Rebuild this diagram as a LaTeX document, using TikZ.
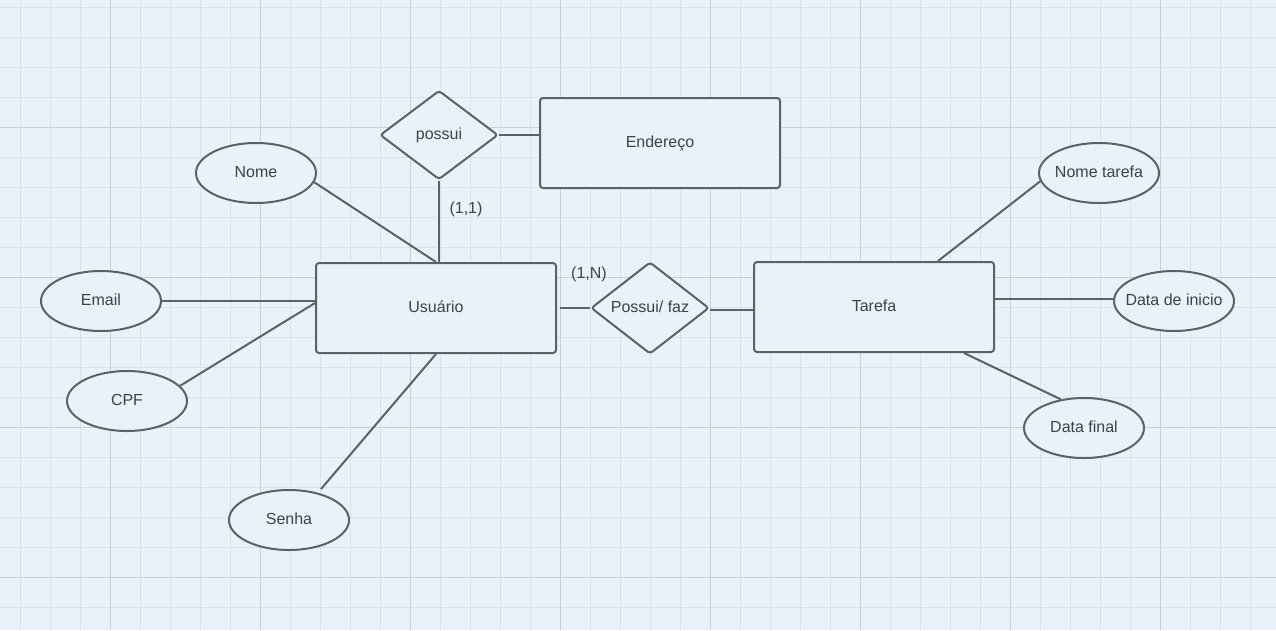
\documentclass[tikz,border=0pt]{standalone}
\usepackage{fontspec}
\setmainfont{Liberation Sans}
\usetikzlibrary{shapes.geometric}
\definecolor{bgblue}{HTML}{E9F2FB}
\definecolor{gridminor}{HTML}{D9E2EC}
\definecolor{gridmajor}{HTML}{C7D0DA}
\definecolor{strokegray}{HTML}{5A6169}
\definecolor{textgray}{HTML}{3B424B}
\begin{document}
\begin{tikzpicture}[x=1pt,y=-1pt,
  every node/.style={font=\fontsize{16}{19}\selectfont, text=textgray},
  shapebase/.style={draw=strokegray, line width=2pt, fill=bgblue, inner sep=0pt},
  entity/.style={shapebase, rectangle, rounded corners=3pt, minimum width=240pt, minimum height=90pt},
  relation/.style={shapebase, diamond, rounded corners=3pt, minimum width=118pt, minimum height=89pt},
  attribute/.style={shapebase, ellipse, minimum width=120pt, minimum height=60pt},
  link/.style={draw=strokegray, line width=2pt},
  cardlabel/.style={font=\fontsize{16}{19}\selectfont}
]
% fixed-size ellipse labels: text does not widen the shape
\newcommand{\attrtext}[1]{\raisebox{2pt}{\makebox[0pt]{#1}}}
\newcommand{\boxtext}[1]{\raisebox{2pt}{#1}}
% canvas and grid
\fill[bgblue] (0,0) rectangle (1276,630);
\useasboundingbox (0,0) rectangle (1276,630);
\foreach \x in {20,50,...,1270} \draw[gridminor, line width=1pt] (\x,0) -- (\x,630);
\foreach \y in {7,37,...,630} \draw[gridminor, line width=1pt] (0,\y) -- (1276,\y);
\foreach \x in {110,260,...,1270} \draw[gridmajor, line width=1pt] (\x,0) -- (\x,630);
\foreach \y in {127,277,...,630} \draw[gridmajor, line width=1pt] (0,\y) -- (1276,\y);

% entities
\node[entity] (usu) at (436,308) {\boxtext{Usuário}};
\node[entity] (endr) at (660,143) {\boxtext{Endereço}};
\node[entity] (tar) at (874,307) {\boxtext{Tarefa}};

% relationships
\node[relation] (pos) at (439,135) {\boxtext{possui}};
\node[relation] (pf) at (650,308) {\boxtext{Possui/ faz}};

% attributes
\node[attribute] (nome) at (256,173) {\attrtext{Nome}};
\node[attribute] (email) at (101,301) {\attrtext{Email}};
\node[attribute] (cpf) at (127,401) {\attrtext{CPF}};
\node[attribute] (senha) at (289,520) {\attrtext{Senha}};
\node[attribute] (nt) at (1099,173) {\attrtext{Nome tarefa}};
\node[attribute] (di) at (1174,301) {\attrtext{Data de inicio}};
\node[attribute] (df) at (1084,428) {\attrtext{Data final}};

% connectors
\draw[link] (pos.east) -- (pos.east -| endr.west);
\draw[link] (pos.south) -- (pos.south |- usu.north);
\draw[link] (nome.-9) -- (usu.north);
\draw[link] (email.east) -- (email.east -| usu.west);
\draw[link] (cpf.16) -- ([yshift=5pt]usu.west);
\draw[link] (usu.south) -- ([xshift=32pt]senha.north);
\draw[link] ([xshift=3pt]usu.east) -- (pf.west);
\draw[link] ([yshift=-2pt]pf.east) -- ([yshift=-2pt]pf.east -| tar.west);
\draw[link] ([xshift=64pt]tar.north) -- (nt.188);
\draw[link] ([yshift=2pt]di.west) -- ([yshift=2pt]di.west -| tar.east);
\draw[link] ([xshift=90pt]tar.south) -- (df.129);

% cardinalities
\node[cardlabel] (c11) at (466,209) {(1,1)};
\node[cardlabel] (c1n) at (589,274) {(1,N)};
\end{tikzpicture}
\end{document}
